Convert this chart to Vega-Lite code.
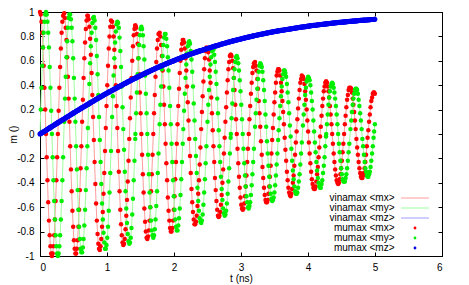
{
"$schema":"https://vega.github.io/schema/vega-lite/v6.json",
"width":402,"height":244,
"autosize":{"type":"none"},
"padding":{"left":40,"top":12,"right":27,"bottom":29},
"background":"white",
"config":{
 "view":{"stroke":"black","strokeWidth":1},
 "font":"Liberation Sans",
 "axis":{"domainColor":"black","domainWidth":1,"tickColor":"black","tickWidth":1,"labelColor":"black","titleColor":"black","labelFont":"Liberation Sans","titleFont":"Liberation Sans","labelFontSize":10,"titleFontSize":10,"titleFontWeight":"normal","grid":false},
 "legend":{"labelFont":"Liberation Sans","labelFontSize":10,"labelColor":"black"}
},
"data":{"values":[
{"t":0,"mx":1,"my":0,"mz":0},{"t":0.0111,"mx":0.98,"my":0.2,"mz":0.004},{"t":0.0223,"mx":0.92,"my":0.38,"mz":0.008},{"t":0.0334,"mx":0.83,"my":0.56,"mz":0.012},{"t":0.0445,"mx":0.71,"my":0.71,"mz":0.016},{"t":0.0556,"mx":0.56,"my":0.83,"mz":0.019},{"t":0.0668,"mx":0.38,"my":0.92,"mz":0.023},{"t":0.0779,"mx":0.2,"my":0.98,"mz":0.027},
{"t":0.089,"mx":0,"my":1,"mz":0.031},{"t":0.1001,"mx":-0.19,"my":0.98,"mz":0.035},{"t":0.1113,"mx":-0.38,"my":0.92,"mz":0.039},{"t":0.1224,"mx":-0.56,"my":0.83,"mz":0.043},{"t":0.1335,"mx":-0.71,"my":0.71,"mz":0.046},{"t":0.1446,"mx":-0.83,"my":0.55,"mz":0.05},{"t":0.1558,"mx":-0.92,"my":0.38,"mz":0.054},{"t":0.1669,"mx":-0.98,"my":0.19,"mz":0.058},
{"t":0.178,"mx":-1,"my":0,"mz":0.062},{"t":0.1891,"mx":-0.98,"my":-0.19,"mz":0.066},{"t":0.2003,"mx":-0.92,"my":-0.38,"mz":0.07},{"t":0.2114,"mx":-0.83,"my":-0.55,"mz":0.073},{"t":0.2225,"mx":-0.7,"my":-0.7,"mz":0.077},{"t":0.2336,"mx":-0.55,"my":-0.83,"mz":0.081},{"t":0.2448,"mx":-0.38,"my":-0.92,"mz":0.085},{"t":0.2559,"mx":-0.19,"my":-0.98,"mz":0.089},
{"t":0.267,"mx":0,"my":-1,"mz":0.093},{"t":0.2781,"mx":0.19,"my":-0.98,"mz":0.097},{"t":0.2893,"mx":0.38,"my":-0.92,"mz":0.1},{"t":0.3004,"mx":0.55,"my":-0.83,"mz":0.104},{"t":0.3115,"mx":0.7,"my":-0.7,"mz":0.108},{"t":0.3226,"mx":0.83,"my":-0.55,"mz":0.112},{"t":0.3338,"mx":0.92,"my":-0.38,"mz":0.116},{"t":0.3449,"mx":0.97,"my":-0.19,"mz":0.119},
{"t":0.3616,"mx":0.99,"my":0.1,"mz":0.125},{"t":0.3727,"mx":0.95,"my":0.29,"mz":0.129},{"t":0.3838,"mx":0.87,"my":0.47,"mz":0.133},{"t":0.3949,"mx":0.77,"my":0.63,"mz":0.137},{"t":0.4061,"mx":0.63,"my":0.76,"mz":0.141},{"t":0.4172,"mx":0.47,"my":0.87,"mz":0.144},{"t":0.4283,"mx":0.29,"my":0.95,"mz":0.148},{"t":0.4394,"mx":0.1,"my":0.98,"mz":0.152},
{"t":0.4506,"mx":-0.1,"my":0.98,"mz":0.156},{"t":0.4617,"mx":-0.29,"my":0.94,"mz":0.16},{"t":0.4728,"mx":-0.47,"my":0.87,"mz":0.163},{"t":0.4839,"mx":-0.63,"my":0.76,"mz":0.167},{"t":0.4951,"mx":-0.76,"my":0.62,"mz":0.171},{"t":0.5062,"mx":-0.87,"my":0.46,"mz":0.175},{"t":0.5173,"mx":-0.94,"my":0.29,"mz":0.178},{"t":0.5284,"mx":-0.98,"my":0.1,"mz":0.182},
{"t":0.5396,"mx":-0.98,"my":-0.1,"mz":0.186},{"t":0.5507,"mx":-0.94,"my":-0.29,"mz":0.19},{"t":0.5618,"mx":-0.87,"my":-0.46,"mz":0.193},{"t":0.5729,"mx":-0.76,"my":-0.62,"mz":0.197},{"t":0.5841,"mx":-0.62,"my":-0.76,"mz":0.201},{"t":0.5952,"mx":-0.46,"my":-0.86,"mz":0.205},{"t":0.6063,"mx":-0.28,"my":-0.94,"mz":0.208},{"t":0.6174,"mx":-0.1,"my":-0.97,"mz":0.212},
{"t":0.6286,"mx":0.1,"my":-0.97,"mz":0.216},{"t":0.6397,"mx":0.28,"my":-0.93,"mz":0.219},{"t":0.6508,"mx":0.46,"my":-0.86,"mz":0.223},{"t":0.6619,"mx":0.62,"my":-0.75,"mz":0.227},{"t":0.6731,"mx":0.75,"my":-0.62,"mz":0.23},{"t":0.6842,"mx":0.86,"my":-0.46,"mz":0.234},{"t":0.6953,"mx":0.93,"my":-0.28,"mz":0.238},{"t":0.7064,"mx":0.97,"my":-0.1,"mz":0.241},
{"t":0.7148,"mx":0.97,"my":0.05,"mz":0.244},{"t":0.7259,"mx":0.94,"my":0.24,"mz":0.248},{"t":0.737,"mx":0.88,"my":0.41,"mz":0.251},{"t":0.7482,"mx":0.78,"my":0.58,"mz":0.255},{"t":0.7593,"mx":0.65,"my":0.72,"mz":0.259},{"t":0.7704,"mx":0.5,"my":0.83,"mz":0.262},{"t":0.7815,"mx":0.32,"my":0.91,"mz":0.266},{"t":0.7927,"mx":0.14,"my":0.95,"mz":0.269},
{"t":0.8038,"mx":-0.05,"my":0.96,"mz":0.273},{"t":0.8149,"mx":-0.23,"my":0.93,"mz":0.277},{"t":0.826,"mx":-0.41,"my":0.87,"mz":0.28},{"t":0.8372,"mx":-0.57,"my":0.77,"mz":0.284},{"t":0.8483,"mx":-0.71,"my":0.64,"mz":0.287},{"t":0.8594,"mx":-0.82,"my":0.49,"mz":0.291},{"t":0.8705,"mx":-0.9,"my":0.32,"mz":0.295},{"t":0.8817,"mx":-0.94,"my":0.14,"mz":0.298},
{"t":0.8928,"mx":-0.95,"my":-0.05,"mz":0.302},{"t":0.9039,"mx":-0.92,"my":-0.23,"mz":0.305},{"t":0.915,"mx":-0.86,"my":-0.41,"mz":0.309},{"t":0.9262,"mx":-0.76,"my":-0.57,"mz":0.312},{"t":0.9373,"mx":-0.64,"my":-0.7,"mz":0.316},{"t":0.9484,"mx":-0.49,"my":-0.81,"mz":0.319},{"t":0.9595,"mx":-0.32,"my":-0.89,"mz":0.323},{"t":0.9707,"mx":-0.14,"my":-0.94,"mz":0.326},
{"t":0.9818,"mx":0.05,"my":-0.94,"mz":0.33},{"t":0.9929,"mx":0.23,"my":-0.91,"mz":0.333},{"t":1.004,"mx":0.4,"my":-0.85,"mz":0.336},{"t":1.0152,"mx":0.56,"my":-0.76,"mz":0.34},{"t":1.0263,"mx":0.7,"my":-0.63,"mz":0.343},{"t":1.0374,"mx":0.8,"my":-0.48,"mz":0.347},{"t":1.0485,"mx":0.88,"my":-0.32,"mz":0.35},{"t":1.0597,"mx":0.93,"my":-0.14,"mz":0.353},
{"t":1.0763,"mx":0.92,"my":0.14,"mz":0.358},{"t":1.0875,"mx":0.88,"my":0.31,"mz":0.361},{"t":1.0986,"mx":0.8,"my":0.48,"mz":0.364},{"t":1.1097,"mx":0.69,"my":0.62,"mz":0.368},{"t":1.1208,"mx":0.55,"my":0.75,"mz":0.371},{"t":1.132,"mx":0.4,"my":0.84,"mz":0.375},{"t":1.1431,"mx":0.23,"my":0.9,"mz":0.378},{"t":1.1542,"mx":0.05,"my":0.92,"mz":0.381},
{"t":1.1653,"mx":-0.14,"my":0.91,"mz":0.385},{"t":1.1765,"mx":-0.31,"my":0.87,"mz":0.388},{"t":1.1876,"mx":-0.47,"my":0.79,"mz":0.391},{"t":1.1987,"mx":-0.62,"my":0.68,"mz":0.394},{"t":1.2098,"mx":-0.74,"my":0.55,"mz":0.398},{"t":1.221,"mx":-0.83,"my":0.39,"mz":0.401},{"t":1.2321,"mx":-0.89,"my":0.22,"mz":0.404},{"t":1.2432,"mx":-0.91,"my":0.04,"mz":0.407},
{"t":1.2543,"mx":-0.9,"my":-0.13,"mz":0.411},{"t":1.2655,"mx":-0.86,"my":-0.31,"mz":0.414},{"t":1.2766,"mx":-0.78,"my":-0.47,"mz":0.417},{"t":1.2877,"mx":-0.67,"my":-0.61,"mz":0.42},{"t":1.2988,"mx":-0.54,"my":-0.73,"mz":0.424},{"t":1.31,"mx":-0.39,"my":-0.82,"mz":0.427},{"t":1.3211,"mx":-0.22,"my":-0.88,"mz":0.43},{"t":1.3322,"mx":-0.04,"my":-0.9,"mz":0.433},
{"t":1.3433,"mx":0.13,"my":-0.89,"mz":0.436},{"t":1.3545,"mx":0.3,"my":-0.85,"mz":0.439},{"t":1.3656,"mx":0.46,"my":-0.77,"mz":0.442},{"t":1.3767,"mx":0.6,"my":-0.66,"mz":0.446},{"t":1.3878,"mx":0.72,"my":-0.53,"mz":0.449},{"t":1.399,"mx":0.81,"my":-0.38,"mz":0.452},{"t":1.4101,"mx":0.86,"my":-0.22,"mz":0.455},{"t":1.4212,"mx":0.89,"my":-0.04,"mz":0.458},
{"t":1.424,"mx":0.89,"my":0,"mz":0.459},{"t":1.4351,"mx":0.87,"my":0.17,"mz":0.462},{"t":1.4463,"mx":0.82,"my":0.34,"mz":0.465},{"t":1.4574,"mx":0.74,"my":0.49,"mz":0.468},{"t":1.4685,"mx":0.62,"my":0.62,"mz":0.471},{"t":1.4796,"mx":0.49,"my":0.73,"mz":0.474},{"t":1.4908,"mx":0.34,"my":0.81,"mz":0.477},{"t":1.5019,"mx":0.17,"my":0.86,"mz":0.48},
{"t":1.513,"mx":0,"my":0.88,"mz":0.483},{"t":1.5241,"mx":-0.17,"my":0.86,"mz":0.486},{"t":1.5353,"mx":-0.33,"my":0.81,"mz":0.489},{"t":1.5464,"mx":-0.48,"my":0.72,"mz":0.492},{"t":1.5575,"mx":-0.61,"my":0.61,"mz":0.495},{"t":1.5686,"mx":-0.72,"my":0.48,"mz":0.498},{"t":1.5798,"mx":-0.8,"my":0.33,"mz":0.501},{"t":1.5909,"mx":-0.85,"my":0.17,"mz":0.504},
{"t":1.602,"mx":-0.86,"my":0,"mz":0.507},{"t":1.6131,"mx":-0.84,"my":-0.17,"mz":0.509},{"t":1.6243,"mx":-0.79,"my":-0.33,"mz":0.512},{"t":1.6354,"mx":-0.71,"my":-0.48,"mz":0.515},{"t":1.6465,"mx":-0.6,"my":-0.6,"mz":0.518},{"t":1.6576,"mx":-0.47,"my":-0.71,"mz":0.521},{"t":1.6688,"mx":-0.33,"my":-0.79,"mz":0.524},{"t":1.6799,"mx":-0.17,"my":-0.83,"mz":0.526},
{"t":1.691,"mx":0,"my":-0.85,"mz":0.529},{"t":1.7021,"mx":0.17,"my":-0.83,"mz":0.532},{"t":1.7133,"mx":0.32,"my":-0.78,"mz":0.535},{"t":1.7244,"mx":0.47,"my":-0.7,"mz":0.538},{"t":1.7355,"mx":0.59,"my":-0.59,"mz":0.54},{"t":1.7466,"mx":0.7,"my":-0.47,"mz":0.543},{"t":1.7578,"mx":0.77,"my":-0.32,"mz":0.546},{"t":1.7689,"mx":0.82,"my":-0.16,"mz":0.549},
{"t":1.7856,"mx":0.83,"my":0.08,"mz":0.553},{"t":1.7967,"mx":0.8,"my":0.24,"mz":0.556},{"t":1.8078,"mx":0.73,"my":0.39,"mz":0.558},{"t":1.8189,"mx":0.64,"my":0.53,"mz":0.561},{"t":1.8301,"mx":0.52,"my":0.64,"mz":0.564},{"t":1.8412,"mx":0.39,"my":0.73,"mz":0.566},{"t":1.8523,"mx":0.24,"my":0.79,"mz":0.569},{"t":1.8634,"mx":0.08,"my":0.82,"mz":0.571},
{"t":1.8746,"mx":-0.08,"my":0.82,"mz":0.574},{"t":1.8857,"mx":-0.24,"my":0.78,"mz":0.577},{"t":1.8968,"mx":-0.38,"my":0.72,"mz":0.579},{"t":1.9079,"mx":-0.52,"my":0.63,"mz":0.582},{"t":1.9191,"mx":-0.63,"my":0.52,"mz":0.584},{"t":1.9302,"mx":-0.71,"my":0.38,"mz":0.587},{"t":1.9413,"mx":-0.77,"my":0.23,"mz":0.589},{"t":1.9524,"mx":-0.8,"my":0.08,"mz":0.592},
{"t":1.9636,"mx":-0.8,"my":-0.08,"mz":0.594},{"t":1.9747,"mx":-0.77,"my":-0.23,"mz":0.596},{"t":1.9858,"mx":-0.71,"my":-0.38,"mz":0.599},{"t":1.9969,"mx":-0.62,"my":-0.51,"mz":0.601},{"t":2.0081,"mx":-0.51,"my":-0.62,"mz":0.604},{"t":2.0192,"mx":-0.37,"my":-0.7,"mz":0.606},{"t":2.0303,"mx":-0.23,"my":-0.76,"mz":0.609},{"t":2.0414,"mx":-0.08,"my":-0.79,"mz":0.611},
{"t":2.0526,"mx":0.08,"my":-0.79,"mz":0.614},{"t":2.0637,"mx":0.23,"my":-0.75,"mz":0.616},{"t":2.0748,"mx":0.37,"my":-0.69,"mz":0.618},{"t":2.0859,"mx":0.5,"my":-0.61,"mz":0.621},{"t":2.0971,"mx":0.6,"my":-0.5,"mz":0.623},{"t":2.1082,"mx":0.69,"my":-0.37,"mz":0.626},{"t":2.1193,"mx":0.74,"my":-0.23,"mz":0.628},{"t":2.1304,"mx":0.77,"my":-0.08,"mz":0.63},
{"t":2.1388,"mx":0.77,"my":0.04,"mz":0.633},{"t":2.1499,"mx":0.75,"my":0.19,"mz":0.635},{"t":2.161,"mx":0.7,"my":0.33,"mz":0.637},{"t":2.1722,"mx":0.62,"my":0.46,"mz":0.64},{"t":2.1833,"mx":0.52,"my":0.57,"mz":0.642},{"t":2.1944,"mx":0.39,"my":0.66,"mz":0.644},{"t":2.2055,"mx":0.26,"my":0.72,"mz":0.646},{"t":2.2167,"mx":0.11,"my":0.75,"mz":0.649},
{"t":2.2278,"mx":-0.04,"my":0.76,"mz":0.651},{"t":2.2389,"mx":-0.18,"my":0.74,"mz":0.653},{"t":2.25,"mx":-0.32,"my":0.68,"mz":0.655},{"t":2.2612,"mx":-0.45,"my":0.61,"mz":0.658},{"t":2.2723,"mx":-0.56,"my":0.51,"mz":0.66},{"t":2.2834,"mx":-0.64,"my":0.39,"mz":0.662},{"t":2.2945,"mx":-0.7,"my":0.25,"mz":0.664},{"t":2.3057,"mx":-0.74,"my":0.11,"mz":0.666},
{"t":2.3168,"mx":-0.74,"my":-0.04,"mz":0.669},{"t":2.3279,"mx":-0.72,"my":-0.18,"mz":0.671},{"t":2.339,"mx":-0.67,"my":-0.32,"mz":0.673},{"t":2.3502,"mx":-0.59,"my":-0.44,"mz":0.675},{"t":2.3613,"mx":-0.49,"my":-0.55,"mz":0.677},{"t":2.3724,"mx":-0.38,"my":-0.63,"mz":0.679},{"t":2.3835,"mx":-0.25,"my":-0.69,"mz":0.681},{"t":2.3947,"mx":-0.11,"my":-0.72,"mz":0.683},
{"t":2.4058,"mx":0.04,"my":-0.73,"mz":0.685},{"t":2.4169,"mx":0.18,"my":-0.71,"mz":0.687},{"t":2.428,"mx":0.31,"my":-0.66,"mz":0.689},{"t":2.4392,"mx":0.43,"my":-0.58,"mz":0.691},{"t":2.4503,"mx":0.53,"my":-0.48,"mz":0.693},{"t":2.4614,"mx":0.62,"my":-0.37,"mz":0.695},{"t":2.4725,"mx":0.68,"my":-0.24,"mz":0.697},{"t":2.4837,"mx":0.71,"my":-0.1,"mz":0.699},
{"t":2.5003,"mx":0.7,"my":0.1,"mz":0.702},{"t":2.5115,"mx":0.67,"my":0.24,"mz":0.703},{"t":2.5226,"mx":0.61,"my":0.36,"mz":0.705},{"t":2.5337,"mx":0.52,"my":0.47,"mz":0.707},{"t":2.5448,"mx":0.42,"my":0.57,"mz":0.709},{"t":2.556,"mx":0.3,"my":0.63,"mz":0.711},{"t":2.5671,"mx":0.17,"my":0.68,"mz":0.713},{"t":2.5782,"mx":0.03,"my":0.7,"mz":0.715},
{"t":2.5893,"mx":-0.1,"my":0.69,"mz":0.717},{"t":2.6005,"mx":-0.23,"my":0.65,"mz":0.719},{"t":2.6116,"mx":-0.36,"my":0.59,"mz":0.721},{"t":2.6227,"mx":-0.46,"my":0.51,"mz":0.722},{"t":2.6338,"mx":-0.55,"my":0.41,"mz":0.724},{"t":2.645,"mx":-0.62,"my":0.29,"mz":0.726},{"t":2.6561,"mx":-0.67,"my":0.17,"mz":0.728},{"t":2.6672,"mx":-0.68,"my":0.03,"mz":0.73},
{"t":2.6783,"mx":-0.67,"my":-0.1,"mz":0.732},{"t":2.6895,"mx":-0.64,"my":-0.23,"mz":0.733},{"t":2.7006,"mx":-0.58,"my":-0.35,"mz":0.735},{"t":2.7117,"mx":-0.5,"my":-0.45,"mz":0.737},{"t":2.7228,"mx":-0.4,"my":-0.54,"mz":0.739},{"t":2.734,"mx":-0.29,"my":-0.61,"mz":0.741},{"t":2.7451,"mx":-0.16,"my":-0.65,"mz":0.742},{"t":2.7562,"mx":-0.03,"my":-0.67,"mz":0.744},
{"t":2.7673,"mx":0.1,"my":-0.66,"mz":0.746},{"t":2.7785,"mx":0.22,"my":-0.63,"mz":0.748},{"t":2.7896,"mx":0.34,"my":-0.57,"mz":0.749},{"t":2.8007,"mx":0.44,"my":-0.49,"mz":0.751},{"t":2.8118,"mx":0.53,"my":-0.39,"mz":0.753},{"t":2.823,"mx":0.59,"my":-0.28,"mz":0.754},{"t":2.8341,"mx":0.64,"my":-0.16,"mz":0.756},{"t":2.8452,"mx":0.65,"my":-0.03,"mz":0.758},
{"t":2.848,"mx":0.65,"my":0,"mz":0.758},{"t":2.8591,"mx":0.64,"my":0.13,"mz":0.76},{"t":2.8703,"mx":0.6,"my":0.25,"mz":0.762},{"t":2.8814,"mx":0.54,"my":0.36,"mz":0.763},{"t":2.8925,"mx":0.46,"my":0.46,"mz":0.765},{"t":2.9036,"mx":0.36,"my":0.53,"mz":0.766},{"t":2.9148,"mx":0.24,"my":0.59,"mz":0.768},{"t":2.9259,"mx":0.12,"my":0.63,"mz":0.77},
{"t":2.937,"mx":0,"my":0.64,"mz":0.771},{"t":2.9481,"mx":-0.12,"my":0.62,"mz":0.773},{"t":2.9593,"mx":-0.24,"my":0.58,"mz":0.774},{"t":2.9704,"mx":-0.35,"my":0.52,"mz":0.776},{"t":2.9815,"mx":-0.44,"my":0.44,"mz":0.777},{"t":2.9926,"mx":-0.52,"my":0.35,"mz":0.779},{"t":3.0038,"mx":-0.58,"my":0.24,"mz":0.78},{"t":3.0149,"mx":-0.61,"my":0.12,"mz":0.782},
{"t":3.026,"mx":-0.62,"my":0,"mz":0.784},{"t":3.0371,"mx":-0.61,"my":-0.12,"mz":0.785},{"t":3.0483,"mx":-0.57,"my":-0.24,"mz":0.786},{"t":3.0594,"mx":-0.51,"my":-0.34,"mz":0.788},{"t":3.0705,"mx":-0.43,"my":-0.43,"mz":0.789},{"t":3.0816,"mx":-0.34,"my":-0.51,"mz":0.791},{"t":3.0928,"mx":-0.23,"my":-0.56,"mz":0.792},{"t":3.1039,"mx":-0.12,"my":-0.6,"mz":0.794},
{"t":3.115,"mx":0,"my":-0.61,"mz":0.795},{"t":3.1261,"mx":0.12,"my":-0.59,"mz":0.797},{"t":3.1373,"mx":0.23,"my":-0.56,"mz":0.798},{"t":3.1484,"mx":0.33,"my":-0.5,"mz":0.799},{"t":3.1595,"mx":0.42,"my":-0.42,"mz":0.801},{"t":3.1706,"mx":0.5,"my":-0.33,"mz":0.802},{"t":3.1818,"mx":0.55,"my":-0.23,"mz":0.804},{"t":3.1929,"mx":0.58,"my":-0.12,"mz":0.805},
{"t":3.2096,"mx":0.59,"my":0.06,"mz":0.807},{"t":3.2207,"mx":0.56,"my":0.17,"mz":0.809},{"t":3.2318,"mx":0.52,"my":0.28,"mz":0.81},{"t":3.2429,"mx":0.45,"my":0.37,"mz":0.811},{"t":3.2541,"mx":0.37,"my":0.45,"mz":0.813},{"t":3.2652,"mx":0.27,"my":0.51,"mz":0.814},{"t":3.2763,"mx":0.17,"my":0.56,"mz":0.815},{"t":3.2874,"mx":0.06,"my":0.58,"mz":0.817},
{"t":3.2986,"mx":-0.06,"my":0.57,"mz":0.818},{"t":3.3097,"mx":-0.17,"my":0.55,"mz":0.819},{"t":3.3208,"mx":-0.27,"my":0.51,"mz":0.82},{"t":3.3319,"mx":-0.36,"my":0.44,"mz":0.822},{"t":3.3431,"mx":-0.44,"my":0.36,"mz":0.823},{"t":3.3542,"mx":-0.5,"my":0.27,"mz":0.824},{"t":3.3653,"mx":-0.54,"my":0.16,"mz":0.825},{"t":3.3764,"mx":-0.56,"my":0.06,"mz":0.827},
{"t":3.3876,"mx":-0.56,"my":-0.06,"mz":0.828},{"t":3.3987,"mx":-0.54,"my":-0.16,"mz":0.829},{"t":3.4098,"mx":-0.49,"my":-0.26,"mz":0.83},{"t":3.4209,"mx":-0.43,"my":-0.35,"mz":0.832},{"t":3.4321,"mx":-0.35,"my":-0.43,"mz":0.833},{"t":3.4432,"mx":-0.26,"my":-0.49,"mz":0.834},{"t":3.4543,"mx":-0.16,"my":-0.53,"mz":0.835},{"t":3.4654,"mx":-0.05,"my":-0.55,"mz":0.836},
{"t":3.4766,"mx":0.05,"my":-0.54,"mz":0.838},{"t":3.4877,"mx":0.16,"my":-0.52,"mz":0.839},{"t":3.4988,"mx":0.26,"my":-0.48,"mz":0.84},{"t":3.5099,"mx":0.34,"my":-0.42,"mz":0.841},{"t":3.5211,"mx":0.42,"my":-0.34,"mz":0.842},{"t":3.5322,"mx":0.48,"my":-0.25,"mz":0.843},{"t":3.5433,"mx":0.51,"my":-0.16,"mz":0.844},{"t":3.5544,"mx":0.53,"my":-0.05,"mz":0.846},
{"t":3.5628,"mx":0.53,"my":0.03,"mz":0.846},{"t":3.5739,"mx":0.52,"my":0.13,"mz":0.847},{"t":3.585,"mx":0.48,"my":0.23,"mz":0.848},{"t":3.5962,"mx":0.42,"my":0.31,"mz":0.849},{"t":3.6073,"mx":0.35,"my":0.39,"mz":0.85},{"t":3.6184,"mx":0.27,"my":0.45,"mz":0.851},{"t":3.6295,"mx":0.18,"my":0.49,"mz":0.852},{"t":3.6407,"mx":0.08,"my":0.52,"mz":0.853},
{"t":3.6518,"mx":-0.03,"my":0.52,"mz":0.854},{"t":3.6629,"mx":-0.13,"my":0.5,"mz":0.855},{"t":3.674,"mx":-0.22,"my":0.47,"mz":0.856},{"t":3.6852,"mx":-0.31,"my":0.41,"mz":0.857},{"t":3.6963,"mx":-0.38,"my":0.34,"mz":0.858},{"t":3.7074,"mx":-0.44,"my":0.26,"mz":0.859},{"t":3.7185,"mx":-0.48,"my":0.17,"mz":0.86},{"t":3.7297,"mx":-0.5,"my":0.07,"mz":0.861},
{"t":3.7408,"mx":-0.51,"my":-0.02,"mz":0.862},{"t":3.7519,"mx":-0.49,"my":-0.12,"mz":0.863},{"t":3.763,"mx":-0.45,"my":-0.22,"mz":0.864},{"t":3.7742,"mx":-0.4,"my":-0.3,"mz":0.865},{"t":3.7853,"mx":-0.34,"my":-0.37,"mz":0.866},{"t":3.7964,"mx":-0.26,"my":-0.43,"mz":0.867},{"t":3.8075,"mx":-0.17,"my":-0.47,"mz":0.868},{"t":3.8187,"mx":-0.07,"my":-0.49,"mz":0.869},
{"t":3.8298,"mx":0.02,"my":-0.49,"mz":0.87},{"t":3.8409,"mx":0.12,"my":-0.48,"mz":0.871},{"t":3.852,"mx":0.21,"my":-0.44,"mz":0.872},{"t":3.8632,"mx":0.29,"my":-0.39,"mz":0.873},{"t":3.8743,"mx":0.36,"my":-0.33,"mz":0.874},{"t":3.8854,"mx":0.42,"my":-0.25,"mz":0.875},{"t":3.8965,"mx":0.45,"my":-0.16,"mz":0.876},{"t":3.9077,"mx":0.48,"my":-0.07,"mz":0.877},
{"t":3.9243,"mx":0.47,"my":0.07,"mz":0.878},{"t":3.9355,"mx":0.45,"my":0.16,"mz":0.879},{"t":3.9466,"mx":0.41,"my":0.24,"mz":0.88},{"t":3.9577,"mx":0.35,"my":0.32,"mz":0.88},{"t":3.9688,"mx":0.28,"my":0.38,"mz":0.881},{"t":3.98,"mx":0.2,"my":0.43,"mz":0.882},{"t":3.9911,"mx":0.11,"my":0.45,"mz":0.883},{"t":4.0022,"mx":0.02,"my":0.47,"mz":0.884},
{"t":4.0133,"mx":-0.07,"my":0.46,"mz":0.885},{"t":4.0245,"mx":-0.16,"my":0.44,"mz":0.886},{"t":4.0356,"mx":-0.24,"my":0.4,"mz":0.887},{"t":4.0467,"mx":-0.31,"my":0.34,"mz":0.888},{"t":4.0578,"mx":-0.37,"my":0.27,"mz":0.889},{"t":4.069,"mx":-0.41,"my":0.2,"mz":0.889},{"t":4.0801,"mx":-0.44,"my":0.11,"mz":0.89},{"t":4.0912,"mx":-0.45,"my":0.02,"mz":0.891},
{"t":4.1023,"mx":-0.45,"my":-0.07,"mz":0.892},{"t":4.1135,"mx":-0.43,"my":-0.15,"mz":0.892},{"t":4.1246,"mx":-0.39,"my":-0.23,"mz":0.893},{"t":4.1357,"mx":-0.33,"my":-0.3,"mz":0.894},{"t":4.1468,"mx":-0.27,"my":-0.36,"mz":0.895},{"t":4.158,"mx":-0.19,"my":-0.4,"mz":0.895},{"t":4.1691,"mx":-0.11,"my":-0.43,"mz":0.896},{"t":4.1802,"mx":-0.02,"my":-0.44,"mz":0.897},
{"t":4.1913,"mx":0.06,"my":-0.44,"mz":0.898},{"t":4.2025,"mx":0.15,"my":-0.41,"mz":0.898},{"t":4.2136,"mx":0.23,"my":-0.38,"mz":0.899},{"t":4.2247,"mx":0.29,"my":-0.32,"mz":0.9},{"t":4.2358,"mx":0.35,"my":-0.26,"mz":0.901},{"t":4.247,"mx":0.39,"my":-0.19,"mz":0.901},{"t":4.2581,"mx":0.42,"my":-0.1,"mz":0.902},{"t":4.2692,"mx":0.43,"my":-0.02,"mz":0.903},
{"t":4.272,"mx":0.43,"my":0,"mz":0.903},{"t":4.2831,"mx":0.42,"my":0.08,"mz":0.904},{"t":4.2943,"mx":0.39,"my":0.16,"mz":0.904},{"t":4.3054,"mx":0.35,"my":0.24,"mz":0.905},{"t":4.3165,"mx":0.3,"my":0.3,"mz":0.906},{"t":4.3276,"mx":0.23,"my":0.35,"mz":0.906},{"t":4.3388,"mx":0.16,"my":0.39,"mz":0.907},{"t":4.3499,"mx":0.08,"my":0.41,"mz":0.908},
{"t":4.361,"mx":0,"my":0.42,"mz":0.909},{"t":4.3721,"mx":-0.08,"my":0.41,"mz":0.909},{"t":4.3833,"mx":-0.16,"my":0.38,"mz":0.91},{"t":4.3944,"mx":-0.23,"my":0.34,"mz":0.911},{"t":4.4055,"mx":-0.29,"my":0.29,"mz":0.911},{"t":4.4166,"mx":-0.34,"my":0.23,"mz":0.912},{"t":4.4278,"mx":-0.38,"my":0.16,"mz":0.913},{"t":4.4389,"mx":-0.4,"my":0.08,"mz":0.913},
{"t":4.45,"mx":-0.41,"my":0,"mz":0.914},{"t":4.4611,"mx":-0.4,"my":-0.08,"mz":0.915},{"t":4.4723,"mx":-0.37,"my":-0.15,"mz":0.915},{"t":4.4834,"mx":-0.33,"my":-0.22,"mz":0.916},{"t":4.4945,"mx":-0.28,"my":-0.28,"mz":0.916},{"t":4.5056,"mx":-0.22,"my":-0.33,"mz":0.917},{"t":4.5168,"mx":-0.15,"my":-0.37,"mz":0.918},{"t":4.5279,"mx":-0.08,"my":-0.39,"mz":0.918},
{"t":4.539,"mx":0,"my":-0.39,"mz":0.919},{"t":4.5501,"mx":0.08,"my":-0.39,"mz":0.919},{"t":4.5613,"mx":0.15,"my":-0.36,"mz":0.92},{"t":4.5724,"mx":0.22,"my":-0.33,"mz":0.921},{"t":4.5835,"mx":0.28,"my":-0.28,"mz":0.921},{"t":4.5946,"mx":0.32,"my":-0.22,"mz":0.922},{"t":4.6058,"mx":0.36,"my":-0.15,"mz":0.922},{"t":4.6169,"mx":0.38,"my":-0.08,"mz":0.923},
{"t":4.6336,"mx":0.38,"my":0.04,"mz":0.924},{"t":4.6447,"mx":0.37,"my":0.11,"mz":0.924},{"t":4.6558,"mx":0.34,"my":0.18,"mz":0.925},{"t":4.6669,"mx":0.29,"my":0.24,"mz":0.925},{"t":4.6781,"mx":0.24,"my":0.29,"mz":0.926},{"t":4.6892,"mx":0.18,"my":0.33,"mz":0.926},{"t":4.7003,"mx":0.11,"my":0.36,"mz":0.927},{"t":4.7114,"mx":0.04,"my":0.37,"mz":0.927},
{"t":4.7226,"mx":-0.04,"my":0.37,"mz":0.928},{"t":4.7337,"mx":-0.11,"my":0.36,"mz":0.929},{"t":4.7448,"mx":-0.17,"my":0.33,"mz":0.929},{"t":4.7559,"mx":-0.23,"my":0.28,"mz":0.93},{"t":4.7671,"mx":-0.28,"my":0.23,"mz":0.93},{"t":4.7782,"mx":-0.32,"my":0.17,"mz":0.931},{"t":4.7893,"mx":-0.35,"my":0.11,"mz":0.931},{"t":4.8004,"mx":-0.36,"my":0.04,"mz":0.932},
{"t":4.8116,"mx":-0.36,"my":-0.04,"mz":0.932},{"t":4.8227,"mx":-0.34,"my":-0.1,"mz":0.933},{"t":4.8338,"mx":-0.32,"my":-0.17,"mz":0.933},{"t":4.8449,"mx":-0.28,"my":-0.23,"mz":0.934},{"t":4.8561,"mx":-0.23,"my":-0.28,"mz":0.934},{"t":4.8672,"mx":-0.17,"my":-0.31,"mz":0.935},{"t":4.8783,"mx":-0.1,"my":-0.34,"mz":0.935},{"t":4.8894,"mx":-0.03,"my":-0.35,"mz":0.936},
{"t":4.9006,"mx":0.03,"my":-0.35,"mz":0.936},{"t":4.9117,"mx":0.1,"my":-0.33,"mz":0.937},{"t":4.9228,"mx":0.16,"my":-0.31,"mz":0.937},{"t":4.9339,"mx":0.22,"my":-0.27,"mz":0.938},{"t":4.9451,"mx":0.27,"my":-0.22,"mz":0.938},{"t":4.9562,"mx":0.3,"my":-0.16,"mz":0.938},{"t":4.9673,"mx":0.33,"my":-0.1,"mz":0.939},{"t":4.9784,"mx":0.34,"my":-0.03,"mz":0.939},
{"t":4.9868,"mx":0.34,"my":0.02,"mz":0.94},{"t":4.9979,"mx":0.33,"my":0.08,"mz":0.94}
]},
"layer":[
 {"mark":{"type":"line","strokeWidth":1},
  "encoding":{
   "x":{"field":"t","type":"quantitative","scale":{"domain":[0,6],"nice":false},
        "axis":{"orient":"bottom","values":[0,1,2,3,4,5,6],"title":"t (ns)","tickSize":-4,"labelPadding":10,"titleX":201,"titleY":22,"titleBaseline":"middle","titleAlign":"center"}},
   "y":{"field":"mx","type":"quantitative","scale":{"domain":[-1,1],"nice":false},
        "axis":{"orient":"left","values":[-1,-0.8,-0.6,-0.4,-0.2,0,0.2,0.4,0.6,0.8,1],"labelExpr":"'' + datum.value","title":"m ()","tickSize":-4,"labelPadding":10,"titleX":-27,"titleY":122,"titleAngle":270,"titleBaseline":"middle","titleAlign":"center"}},
   "stroke":{"datum":"vinamax <mx>","type":"nominal",
        "scale":{"domain":["vinamax <mx>","vinamax <my>","vinamax <mz>"],"range":["#ff9c9c","#9cff9c","#9c9cff"]},
        "legend":{"title":null,"orient":"none","legendX":370,"legendY":181,"symbolType":"M-3.11,0H3.11","symbolSize":81,"symbolStrokeWidth":1,"symbolOpacity":1,"labelAlign":"right","labelOffset":-25.5,"rowPadding":0,"padding":0,
          "encode":{"symbols":{"update":{"stroke":{"scale":"stroke","field":"value"},"strokeWidth":{"value":1},"opacity":{"value":1}}}}}}
  }},
 {"mark":{"type":"line","strokeWidth":1},
  "encoding":{
   "x":{"field":"t","type":"quantitative","scale":{"domain":[0,6],"nice":false},"axis":null},
   "y":{"field":"my","type":"quantitative","scale":{"domain":[-1,1],"nice":false},"axis":null},
   "stroke":{"datum":"vinamax <my>","type":"nominal"}
  }},
 {"mark":{"type":"line","strokeWidth":1},
  "encoding":{
   "x":{"field":"t","type":"quantitative","scale":{"domain":[0,6],"nice":false},"axis":null},
   "y":{"field":"mz","type":"quantitative","scale":{"domain":[-1,1],"nice":false},"axis":null},
   "stroke":{"datum":"vinamax <mz>","type":"nominal"}
  }},
 {"mark":{"type":"point","filled":true,"size":20,"opacity":1,"strokeWidth":0},
  "encoding":{
   "x":{"field":"t","type":"quantitative","scale":{"domain":[0,6],"nice":false},"axis":null},
   "y":{"field":"mx","type":"quantitative","scale":{"domain":[-1,1],"nice":false},"axis":null},
   "fill":{"datum":"mumax <mx>","type":"nominal",
        "scale":{"domain":["mumax <mx>","mumax <my>","mumax <mz>"],"range":["#ff0000","#00ee00","#0000f0"]},
        "legend":{"title":null,"orient":"none","legendX":370,"legendY":211,"symbolType":"circle","symbolSize":8,"symbolStrokeWidth":0,"symbolOpacity":1,"labelAlign":"right","labelOffset":-25.5,"rowPadding":0,"padding":0,
          "encode":{"symbols":{"update":{"fill":{"scale":"fill","field":"value"},"opacity":{"value":1}}}}}}
  }},
 {"mark":{"type":"point","filled":true,"size":20,"opacity":1,"strokeWidth":0},
  "encoding":{
   "x":{"field":"t","type":"quantitative","scale":{"domain":[0,6],"nice":false},"axis":null},
   "y":{"field":"my","type":"quantitative","scale":{"domain":[-1,1],"nice":false},"axis":null},
   "fill":{"datum":"mumax <my>","type":"nominal"}
  }},
 {"mark":{"type":"point","filled":true,"size":26,"opacity":1,"strokeWidth":0},
  "encoding":{
   "x":{"field":"t","type":"quantitative","scale":{"domain":[0,6],"nice":false},
        "axis":{"orient":"top","values":[0,1,2,3,4,5,6],"labels":false,"title":null,"tickSize":-4}},
   "y":{"field":"mz","type":"quantitative","scale":{"domain":[-1,1],"nice":false},
        "axis":{"orient":"right","values":[-1,-0.8,-0.6,-0.4,-0.2,0,0.2,0.4,0.6,0.8,1],"labels":false,"title":null,"tickSize":-4}},
   "fill":{"datum":"mumax <mz>","type":"nominal"}
  }}
],
"resolve":{"axis":{"x":"independent","y":"independent"}}
}
